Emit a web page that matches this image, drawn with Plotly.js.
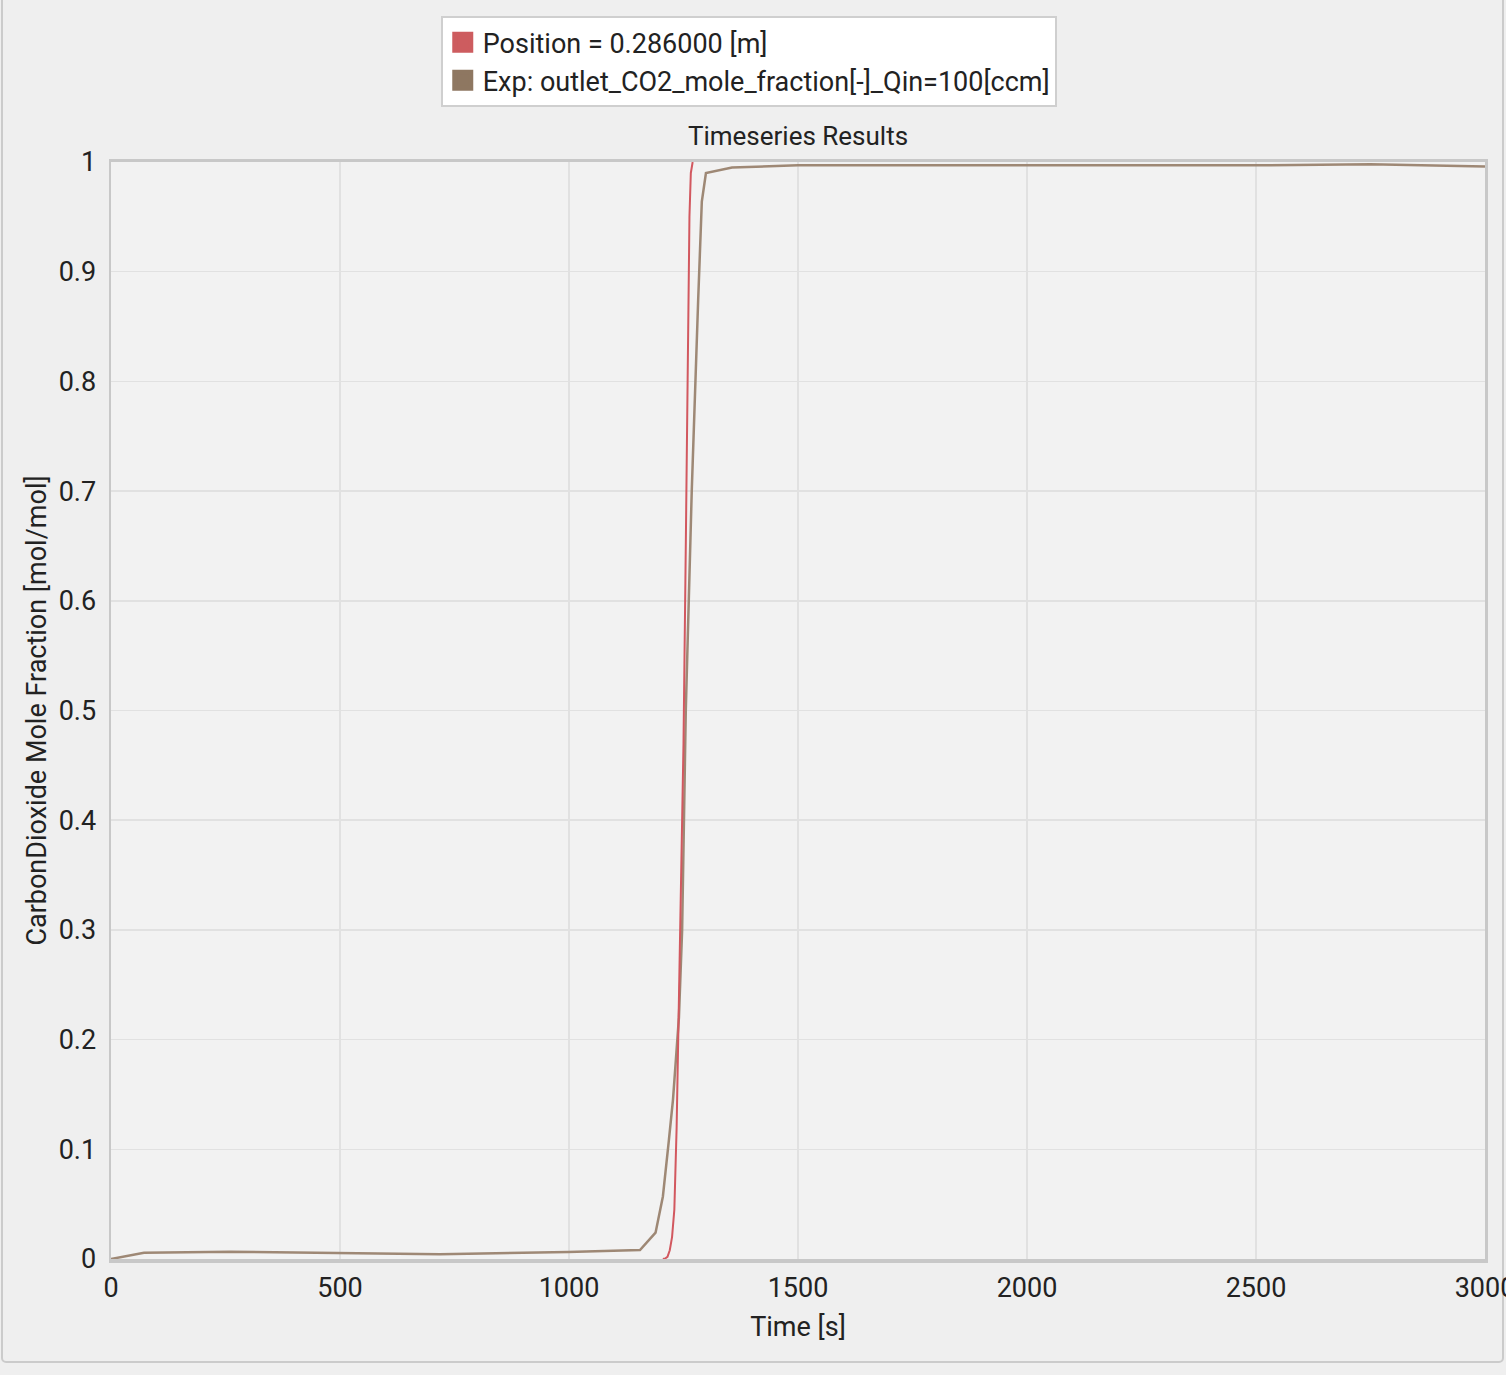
<!DOCTYPE html>
<html>
<head>
<meta charset="utf-8">
<script src="https://cdn.plot.ly/plotly-3.0.1.min.js"></script>
<style>
  html, body { margin: 0; padding: 0; background: #efefef; }
  #frame {
    position: absolute; left: 1px; top: -6px; width: 1503px; height: 1369px;
    border: 2px solid #cbcbcb; border-radius: 5px; box-sizing: border-box;
  }
  #chart { position: absolute; left: 0; top: 0; width: 1506px; height: 1375px; }
</style>
</head>
<body>
<div id="frame"></div>
<div id="chart"></div>
<script>
// simulated outlet CO2 at position 0.286 m (flat parts sit under the axis lines)
var simTime = [1205, 1210, 1215, 1220, 1225, 1230, 1235, 1240, 1245, 1250, 1255, 1260, 1263, 1266, 1270];
var simCO2  = [0, 0.0005, 0.002, 0.008, 0.02, 0.045, 0.12, 0.24, 0.34, 0.47, 0.65, 0.88, 0.95, 0.99, 1.0];

// experimental outlet CO2, Qin = 100 ccm
var expTime = [0, 72, 260, 500, 600, 718, 998, 1155, 1189, 1205, 1218, 1227, 1240, 1247, 1255, 1268, 1282, 1290, 1299, 1356, 1500, 2000, 2500, 2750, 3000];
var expCO2  = [0, 0.0057, 0.0067, 0.0052, 0.0052, 0.0043, 0.0064, 0.0082, 0.024, 0.057, 0.108, 0.145, 0.22, 0.3, 0.5, 0.7, 0.874, 0.964, 0.990, 0.995, 0.997, 0.997, 0.997, 0.998, 0.996];

var simName = 'Position = 0.286000 [m]';
var expName = 'Exp: outlet_CO2_mole_fraction[-]_Qin=100[ccm]';
var simColor = '#d2585f';
var expColor = '#9e8875';

var data = [
  {x: expTime, y: expCO2, mode: 'lines', line: {color: expColor, width: 2.5}, showlegend: false},
  {x: simTime, y: simCO2, mode: 'lines', line: {color: simColor, width: 2}, showlegend: false},
  // square swatches for the legend
  {x: [null], y: [null], mode: 'markers', name: simName,
   marker: {symbol: 'square', size: 16, color: '#cd5c5f', line: {color: '#cd5c5f', width: 5}}},
  {x: [null], y: [null], mode: 'markers', name: expName,
   marker: {symbol: 'square', size: 16, color: '#8e7761', line: {color: '#8e7761', width: 5}}}
];

var axisFont = {family: 'Roboto, sans-serif', size: 27, color: '#222'};

var layout = {
  width: 1506,
  height: 1375,
  margin: {l: 111, r: 21, t: 162, b: 116},
  paper_bgcolor: 'rgba(0,0,0,0)',
  plot_bgcolor: '#f2f2f2',
  font: {family: 'Roboto, sans-serif', color: '#222'},
  title: {
    text: 'Timeseries Results',
    font: {family: 'Roboto, sans-serif', size: 26, color: '#222'},
    x: 0.5, xref: 'paper', xanchor: 'center',
    y: 0.901, yref: 'container', yanchor: 'middle'
  },
  xaxis: {
    range: [0, 3000],
    tickvals: [0, 500, 1000, 1500, 2000, 2500, 3000],
    ticks: '',
    ticklabelstandoff: 2,
    ticklabeloverflow: 'allow',
    tickfont: axisFont,
    showgrid: true, gridcolor: '#e1e1e1', gridwidth: 1.5,
    zeroline: false,
    showline: true, linecolor: '#c8c8c8', linewidth: 3.5, mirror: true,
    title: {text: 'Time [s]', font: axisFont, standoff: 15}
  },
  yaxis: {
    range: [0, 1],
    tickvals: [0, 0.1, 0.2, 0.3, 0.4, 0.5, 0.6, 0.7, 0.8, 0.9, 1],
    ticktext: ['0', '0.1', '0.2', '0.3', '0.4', '0.5', '0.6', '0.7', '0.8', '0.9', '1'],
    ticks: '',
    ticklabelstandoff: 7,
    tickfont: axisFont,
    showgrid: true, gridcolor: '#e1e1e1', gridwidth: 1.5,
    zeroline: false,
    showline: true, linecolor: '#c8c8c8', linewidth: 2.5, mirror: true,
    title: {text: 'CarbonDioxide Mole Fraction [mol/mol]', font: axisFont, standoff: 4}
  },
  legend: {
    x: 0.240, xanchor: 'left',
    y: 1.133, yanchor: 'top',
    bgcolor: '#ffffff',
    bordercolor: '#cfcfcf',
    borderwidth: 2,
    font: {family: 'Roboto, sans-serif', size: 27, color: '#222'},
    tracegroupgap: 0
  },
  hovermode: 'closest'
};

Plotly.newPlot('chart', data, layout, {displayModeBar: false, staticPlot: true});
</script>
</body>
</html>
